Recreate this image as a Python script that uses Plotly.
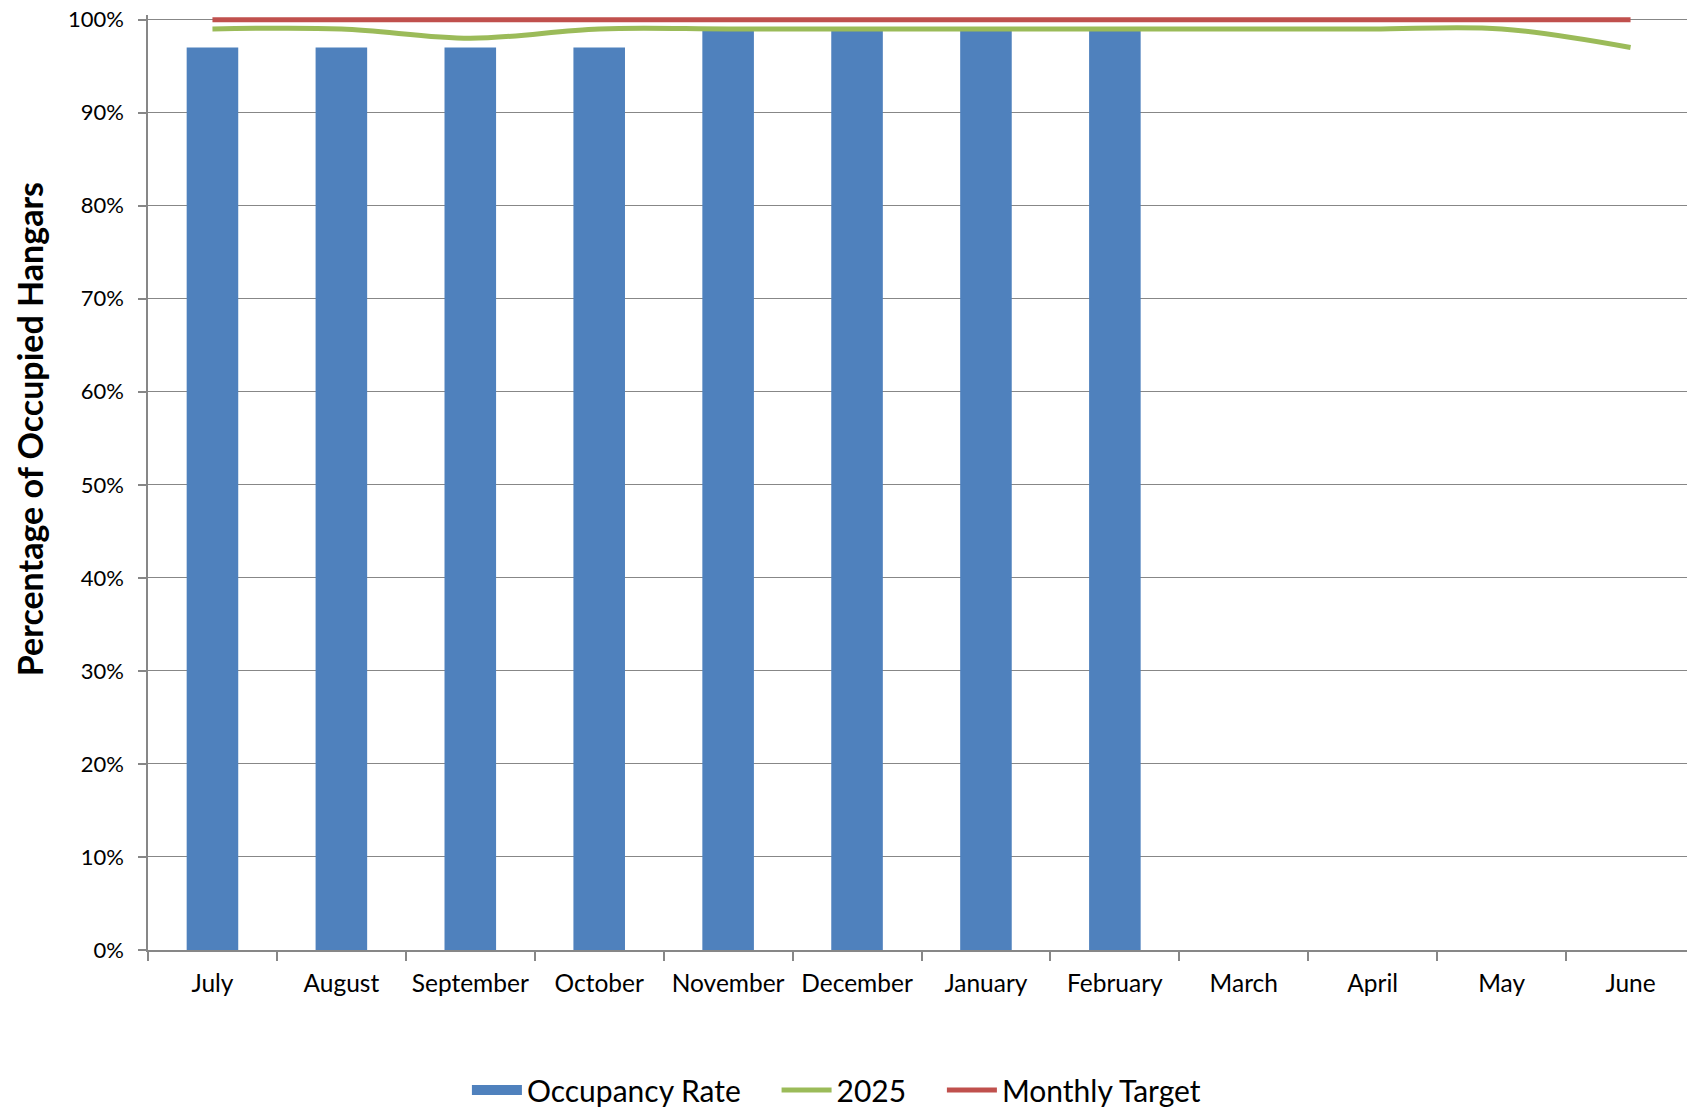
import plotly.graph_objects as go

months = ['July', 'August', 'September', 'October', 'November', 'December',
          'January', 'February', 'March', 'April', 'May', 'June']
occupancy = [0.97, 0.97, 0.97, 0.97, 0.99, 0.99, 0.99, 0.99, None, None, None, None]
line_2025 = [0.99, 0.99, 0.98, 0.99, 0.99, 0.99, 0.99, 0.99, 0.99, 0.99, 0.99, 0.97]
target = [1.0] * 12

FONT = 'Lato'
GRID = '#878787'
BLUE = '#4F81BD'

fig = go.Figure()
fig.add_trace(go.Bar(x=months, y=occupancy, name='Occupancy Rate', showlegend=False,
                     marker=dict(color=BLUE, line=dict(width=0)), width=0.4))
# legend swatch for the bars (wide rectangle like the original)
fig.add_trace(go.Scatter(x=[months[0]], y=[None], name='Occupancy Rate    ', mode='lines',
                         line=dict(color=BLUE, width=18)))
fig.add_trace(go.Scatter(x=months, y=line_2025, name='2025    ', mode='lines',
                         line=dict(color='#9BBB59', width=5, shape='spline', smoothing=1)))
fig.add_trace(go.Scatter(x=months, y=target, name='Monthly Target', mode='lines',
                         line=dict(color='#C0504D', width=5)))

# page body has an 8px margin, so margins are shifted to compensate
fig.update_layout(
    width=1695, height=1115,
    margin=dict(l=140, r=8, t=7, b=168),
    plot_bgcolor='white', paper_bgcolor='white',
    font=dict(family=FONT, size=22, color='black'),
    bargap=0.6,
    showlegend=True,
    legend=dict(orientation='h', x=0.445, xanchor='center', y=-0.122, yanchor='top',
                font=dict(size=30), itemwidth=50, traceorder='normal'),
)
fig.update_xaxes(
    type='category', range=[-0.5, 11.5], automargin=False,
    showline=True, linecolor=GRID, linewidth=1.5,
    ticks='outside', tickson='boundaries', ticklen=9, tickcolor=GRID, tickwidth=1.5,
    ticklabelstandoff=11, showgrid=False, tickfont=dict(size=24.5),
)
fig.update_yaxes(
    range=[0, 1.005], tickvals=[i / 10 for i in range(11)], tickformat='.0%', automargin=False,
    showline=True, linecolor=GRID, linewidth=1.5,
    ticks='outside', ticklen=8, tickcolor=GRID, tickwidth=1.5,
    ticklabelstandoff=10, ticklabeloverflow='allow',
    showgrid=True, gridcolor=GRID, gridwidth=1.3, zeroline=False,
)
fig.add_annotation(text='<b>Percentage of Occupied Hangars</b>', textangle=-90,
                   xref='paper', yref='paper', x=0, y=0.557, xshift=-119,
                   xanchor='center', yanchor='middle',
                   showarrow=False, font=dict(size=34, family=FONT, color='black'))

fig.write_html('out.html')
